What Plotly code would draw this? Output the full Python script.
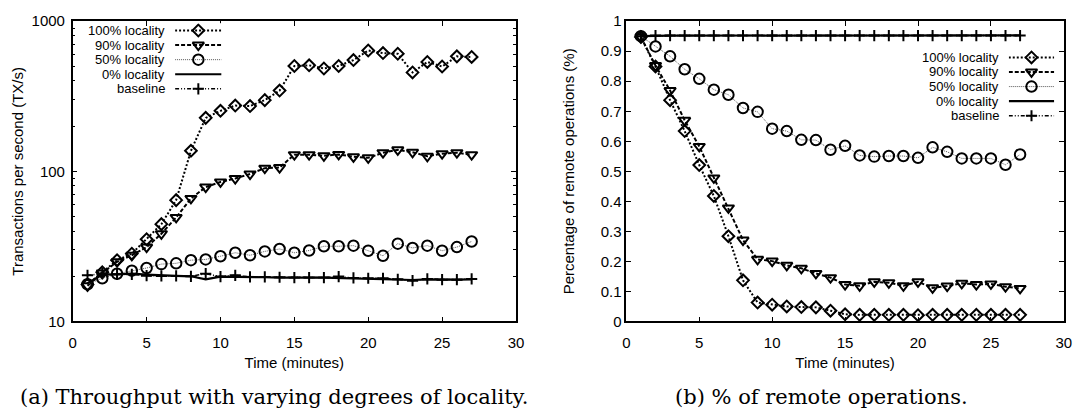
import plotly.graph_objects as go

# ---------------- data ----------------
minutes = [1, 2, 3, 4, 5, 6, 7, 8, 9, 10, 11, 12, 13, 14, 15, 16, 17, 18, 19, 20,
           21, 22, 23, 24, 25, 26, 27]

# (a) throughput (TX/s)
tp_100 = [17.6, 21.3, 25.6, 28.3, 35.3, 44.5, 64.3, 137, 227, 253, 274, 272, 298, 345,
          503, 508, 484, 503, 551, 638, 613, 607, 456, 535, 499, 583, 578]
tp_90 = [17.3, 21.0, 25.0, 27.6, 31.3, 38.4, 49.3, 66, 78.5, 85, 89.6, 96, 105, 106,
         129, 129, 127, 129.6, 125, 123, 133, 139, 134, 126, 131, 133, 129]
tp_50 = [17.7, 19.4, 20.8, 21.8, 22.7, 24.1, 24.4, 25.6, 25.9, 27.2, 28.7, 27.6, 29.3, 30.4,
         28.7, 29.7, 31.7, 31.7, 32.0, 29.6, 27.4, 33.0, 30.9, 32.0, 29.6, 31.3, 34.1]
tp_0 = [18.0, 20.5, 20.6, 20.8, 20.5, 20.2, 20.1, 20.0, 19.1, 19.9, 19.9, 19.8, 19.7, 19.6,
        19.5, 19.6, 19.6, 19.5, 19.3, 19.3, 19.2, 19.1, 18.9, 19.1, 19.0, 19.0, 19.1]
tp_base = [20.3, 20.8, 20.6, 20.6, 20.2, 20.1, 20.1, 20.0, 20.8, 19.9, 20.3, 19.8, 19.8, 19.7,
           19.6, 19.6, 19.6, 19.9, 19.5, 19.4, 19.4, 19.1, 18.7, 19.2, 19.0, 19.0, 19.2]

# (b) fraction of remote operations
rem_100 = [0.947, 0.849, 0.737, 0.634, 0.521, 0.418, 0.284, 0.137, 0.063, 0.056, 0.050,
           0.048, 0.047, 0.036, 0.024, 0.022, 0.022, 0.022, 0.022, 0.021, 0.022, 0.022,
           0.022, 0.022, 0.022, 0.022, 0.022]
rem_90 = [0.947, 0.852, 0.769, 0.670, 0.583, 0.478, 0.378, 0.271, 0.207, 0.201, 0.187,
          0.177, 0.160, 0.146, 0.123, 0.119, 0.132, 0.129, 0.119, 0.132, 0.112, 0.118,
          0.127, 0.123, 0.125, 0.116, 0.110]
rem_50 = [0.950, 0.916, 0.883, 0.840, 0.808, 0.772, 0.755, 0.711, 0.698, 0.642, 0.634,
          0.605, 0.604, 0.572, 0.585, 0.553, 0.549, 0.551, 0.551, 0.545, 0.580, 0.565,
          0.543, 0.543, 0.543, 0.522, 0.556]
rem_0 = [0.950, 0.952, 0.952, 0.952, 0.952, 0.952, 0.952, 0.952, 0.952, 0.952, 0.952,
         0.952, 0.952, 0.952, 0.953, 0.952, 0.952, 0.952, 0.952, 0.952, 0.951, 0.952,
         0.952, 0.952, 0.952, 0.952, 0.953]
rem_base = [0.950, 0.952, 0.952, 0.952, 0.952, 0.952, 0.952, 0.952, 0.952, 0.952, 0.952,
            0.952, 0.952, 0.952, 0.952, 0.952, 0.952, 0.952, 0.952, 0.952, 0.952, 0.952,
            0.952, 0.952, 0.952, 0.952, 0.952]

series_names = ["100% locality", "90% locality", "50% locality", "0% locality", "baseline"]
tp_series = [tp_100, tp_90, tp_50, tp_0, tp_base]
rem_series = [rem_100, rem_90, rem_50, rem_0, rem_base]

tp_tickvals = [10, 100, 1000]
tp_ticktext = ["10", "100", "1000"]
x_tickvals = [0, 5, 10, 15, 20, 25, 30]

title_a = "(a) Throughput with varying degrees of locality."
title_b = "(b) % of remote operations."
xlabel = "Time (minutes)"
ylabel_a = "Transactions per second (TX/s)"
ylabel_b = "Percentage of remote operations (%)"

# ---------------- styles ----------------
W, H = 1084, 419
SANS = "Liberation Sans, Arial, sans-serif"
SERIF = "DejaVu Serif, serif"
FS = 15
LEG_FS = 13
LEG_PITCH = 15.2

styles = [
    dict(line=dict(color="black", width=2, dash="2px,2px"),
         marker=dict(symbol="diamond-open", size=9, color="black", line=dict(width=2, color="black"))),
    dict(line=dict(color="black", width=2, dash="4px,2px"),
         marker=dict(symbol="triangle-down-open", size=10, color="black", line=dict(width=2, color="black"))),
    dict(line=dict(color="#555555", width=1, dash="1px,1px"),
         marker=dict(symbol="circle-open", size=10.5, color="black", line=dict(width=2, color="black"))),
    dict(line=dict(color="black", width=2.2, dash="solid"), marker=None),
    dict(line=dict(color="black", width=1.5, dash="4px,2px,1px,2px,1px,2px"),
         marker=dict(symbol="cross-thin-open", size=8, color="black", line=dict(width=2, color="black"))),
]


def px_x(p):
    return p / W


def px_y(p):
    return 1 - p / H


fig = go.Figure()

for i, name in enumerate(series_names):
    st = styles[i]
    for ys, xa, ya in ((tp_series[i], "x", "y"), (rem_series[i], "x2", "y2")):
        kw = dict(x=minutes, y=ys, xaxis=xa, yaxis=ya, name=name, showlegend=False,
                  line=st["line"], hoverinfo="x+y+name")
        if st["marker"] is not None:
            kw["mode"] = "lines+markers"
            kw["marker"] = st["marker"]
        else:
            kw["mode"] = "lines"
        fig.add_trace(go.Scatter(**kw))

# ---------------- custom legends (text left, sample right, as in gnuplot) ----------------
legend_boxes = [
    # (xaxis, yaxis, text right px)
    ("x3", "y3", 164),
    ("x4", "y4", 1007),
]
annotations = []
for xa, ya, tr in legend_boxes:
    for i, name in enumerate(series_names):
        st = styles[i]
        fig.add_trace(go.Scatter(x=[0, 1], y=[i, i], xaxis=xa, yaxis=ya, mode="lines",
                                 line=st["line"], showlegend=False, hoverinfo="skip"))
        if st["marker"] is not None:
            fig.add_trace(go.Scatter(x=[0.5], y=[i], xaxis=xa, yaxis=ya, mode="markers",
                                     marker=st["marker"], showlegend=False, hoverinfo="skip"))
        annotations.append(dict(x=px_x(tr), xref="paper", y=i, yref=ya, text=name,
                                showarrow=False, xanchor="right", yanchor="middle", borderpad=0,
                                font=dict(family=SANS, size=LEG_FS, color="black")))

# captions
annotations.append(dict(x=px_x(14), y=px_y(404), xref="paper", yref="paper", text=title_a,
                        showarrow=False, xanchor="left", yanchor="middle",
                        font=dict(family=SERIF, size=21, color="black")))
annotations.append(dict(x=px_x(676), y=px_y(404), xref="paper", yref="paper", text=title_b,
                        showarrow=False, xanchor="left", yanchor="middle",
                        font=dict(family=SERIF, size=21, color="black")))

axis_common = dict(showline=True, linecolor="black", linewidth=1.5, mirror="ticks",
                   ticks="inside", ticklen=5, tickwidth=1, tickcolor="black",
                   showgrid=False, zeroline=False,
                   tickfont=dict(family=SANS, size=FS, color="black"))

PLOT_TOP, PLOT_BOTTOM = 12.7, 325.7
ydom = [px_y(PLOT_BOTTOM), px_y(PLOT_TOP)]
title_font = dict(family=SANS, size=FS, color="black")

# legend row centres (px from top)
leg_a_mid, leg_b_mid = 52.8, 80.85


def leg_domain(mid):
    return [px_y(mid + 2.5 * LEG_PITCH), px_y(mid - 2.5 * LEG_PITCH)]


fig.update_layout(
    width=W, height=H,
    margin=dict(l=0, r=0, t=0, b=0),
    paper_bgcolor="white", plot_bgcolor="white",
    showlegend=False,
    annotations=annotations,
    xaxis=dict(domain=[px_x(69.5), px_x(517.7)], range=[0, 30], tickvals=x_tickvals,
               ticklabelstandoff=7,
               title=dict(text=xlabel, font=title_font, standoff=7),
               anchor="y", **axis_common),
    yaxis=dict(domain=ydom, type="log", range=[1, 3], tickvals=tp_tickvals, ticktext=tp_ticktext,
               minor=dict(ticks="inside", ticklen=3, dtick="D1", tickcolor="black", showgrid=False),
               ticklabelstandoff=3,
               title=dict(text=ylabel_a, font=title_font, standoff=4),
               anchor="x", **axis_common),
    xaxis2=dict(domain=[px_x(629.3), px_x(1071.7)], range=[0, 30], tickvals=x_tickvals,
                ticklabelstandoff=7,
                title=dict(text=xlabel, font=title_font, standoff=7),
                anchor="y2", **axis_common),
    yaxis2=dict(domain=ydom, range=[0, 1], dtick=0.1,
                title=dict(text=ylabel_b, font=title_font, standoff=22),
                anchor="x2", **axis_common),
    xaxis3=dict(domain=[px_x(173), px_x(220)], range=[0, 1], visible=False, anchor="y3"),
    yaxis3=dict(domain=leg_domain(leg_a_mid), range=[4.5, -0.5], visible=False, anchor="x3"),
    xaxis4=dict(domain=[px_x(1016), px_x(1062)], range=[0, 1], visible=False, anchor="y4"),
    yaxis4=dict(domain=leg_domain(leg_b_mid), range=[4.5, -0.5], visible=False, anchor="x4"),
)

fig.write_html("out.html")
